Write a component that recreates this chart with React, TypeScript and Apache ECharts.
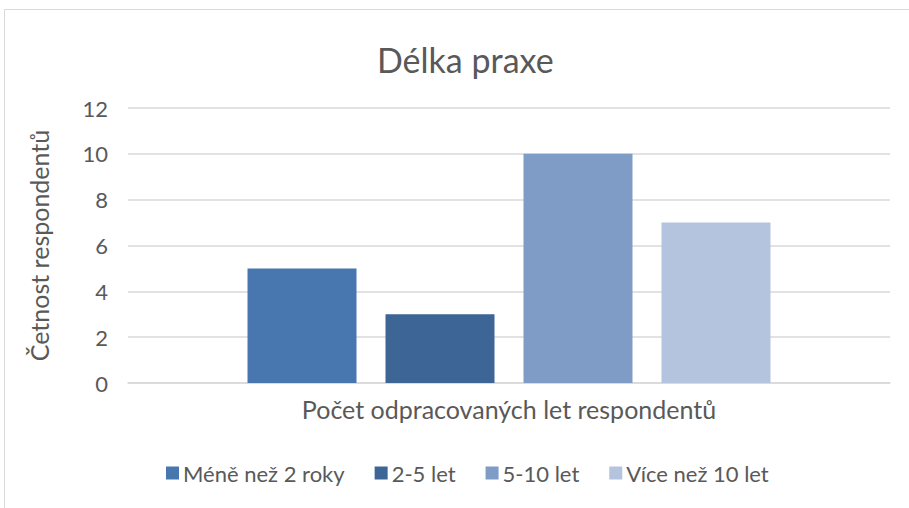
import React, { useEffect, useRef } from "react";
import * as echarts from "echarts";

const categories = [""];
const seriesNames = ["Méně než 2 roky", "2-5 let", "5-10 let", "Více než 10 let"];
const seriesValues = [5, 3, 10, 7];
const seriesColors = ["#4877AF", "#3D6596", "#7F9CC7", "#B4C3DE"];
const yTicks = { min: 0, max: 12, interval: 2 };
const titleText = "Délka praxe";
const xAxisName = "Počet odpracovaných let respondentů";
const yAxisName = "Četnost respondentů";

const FONT = "Lato, 'Open Sans', sans-serif";
const TEXT = "#595959";

export default function App() {
  const ref = useRef<HTMLDivElement>(null);
  useEffect(() => {
    if (!ref.current) return;
    const chart = echarts.init(ref.current, null, { renderer: "svg" });
    chart.setOption({
      animation: false,
      backgroundColor: "#ffffff",
      title: {
        text: titleText,
        left: 372,
        top: 37,
        textStyle: { fontFamily: FONT, fontSize: 34, fontWeight: "normal", color: TEXT },
      },
      graphic: [
        {
          type: "rect",
          shape: { x: 4.5, y: 9.5, width: 1000, height: 600 },
          style: { fill: "none", stroke: "#D9D9D9", lineWidth: 1 },
          silent: true,
        },
      ],
      legend: {
        bottom: 19,
        left: 161,
        itemWidth: 13,
        itemHeight: 13,
        itemGap: 30,
        icon: "rect",
        textStyle: { fontFamily: FONT, fontSize: 22, color: TEXT, padding: [0, 0, 0, -1] },
        data: seriesNames,
      },
      grid: { left: 128, right: 19, top: 108, bottom: 125, containLabel: false },
      xAxis: {
        type: "category",
        data: categories,
        name: xAxisName,
        nameLocation: "middle",
        nameGap: 13,
        nameTextStyle: { fontFamily: FONT, fontSize: 25, color: TEXT },
        axisLine: { lineStyle: { color: "#D9D9D9", width: 1.5 } },
        axisTick: { show: false },
        axisLabel: { show: false },
      },
      yAxis: {
        type: "value",
        min: yTicks.min,
        max: yTicks.max,
        interval: yTicks.interval,
        name: yAxisName,
        nameLocation: "middle",
        nameRotate: 90,
        nameGap: 77,
        nameTextStyle: { fontFamily: FONT, fontSize: 25, color: TEXT },
        axisLine: { show: false },
        axisTick: { show: false },
        axisLabel: { fontFamily: FONT, fontSize: 22, color: TEXT, margin: 20 },
        splitLine: { lineStyle: { color: "#D9D9D9", width: 1.5 } },
      },
      series: seriesNames.map((name, i) => ({
        name,
        type: "bar",
        data: [seriesValues[i]],
        barWidth: 109,
        barGap: "26.6%",
        itemStyle: { color: seriesColors[i] },
      })),
    });
    return () => chart.dispose();
  }, []);
  return (
    <div
      ref={ref}
      style={{ position: "fixed", left: 0, top: 0, width: 909, height: 508 }}
    />
  );
}
